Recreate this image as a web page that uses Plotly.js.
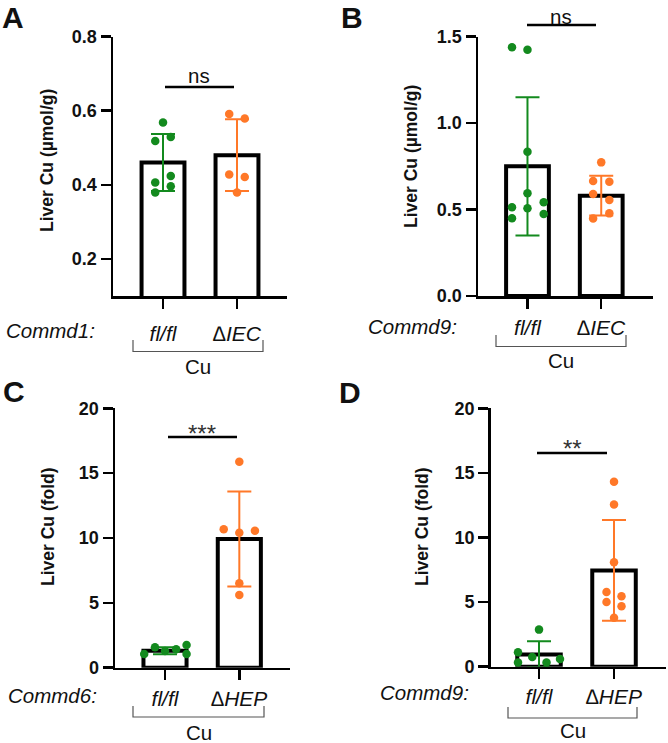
<!DOCTYPE html>
<html>
<head>
<meta charset="utf-8">
<script src="https://cdn.plot.ly/plotly-3.0.1.min.js"></script>
<style>
  body { margin: 0; background: #fff; }
  #graphDiv { width: 668px; height: 743px; }
</style>
</head>
<body>
<div id="graphDiv"></div>
<script>
// Datos (Liver Cu)
let gruposA = ["fl/fl", "\u2206IEC"];
let flA = [0.568, 0.518, 0.529, 0.424, 0.406, 0.396, 0.379];
let koA = [0.591, 0.579, 0.428, 0.421, 0.379];
let mediaA = [0.46, 0.48];
let sdA = [0.077, 0.097];

let gruposB = ["fl/fl", "\u2206IEC"];
let flB = [1.439, 1.425, 0.835, 0.594, 0.513, 0.507, 0.542, 0.450, 0.475];
let koB = [0.773, 0.665, 0.661, 0.590, 0.555, 0.449, 0.478];
let mediaB = [0.75, 0.58];
let sdB = [0.40, 0.115];

let gruposC = ["fl/fl", "\u2206HEP"];
let flC = [1.06, 1.57, 1.29, 1.42, 1.75, 1.06];
let koC = [15.88, 10.67, 10.41, 10.56, 6.51, 5.61];
let mediaC = [1.3, 9.93];
let sdC = [0.27, 3.66];

let gruposD = ["fl/fl", "\u2206HEP"];
let flD = [1.11, 0.33, 0.75, 2.87, 0.33, 0.60];
let koD = [14.32, 12.56, 8.09, 5.78, 5.45, 5.01, 4.67, 3.78];
let mediaD = [0.95, 7.45];
let sdD = [1.02, 3.9];

// desplazamiento horizontal de cada punto (solo para dibujar)
let jitA = [[0, -0.105, 0.105, 0.105, -0.105, 0.105, -0.105], [-0.105, 0.105, -0.105, 0.105, 0]];
let jitB = [[-0.21, 0, 0, 0, -0.21, 0, 0.22, -0.21, 0.22], [0, -0.11, 0.11, -0.11, 0.11, -0.11, 0.11]];
let jitC = [[-0.28, -0.135, 0, 0.15, 0.29, 0.29], [0, -0.21, 0, 0.21, 0, 0]];
let jitD = [[-0.28, -0.28, -0.09, 0, 0.1, 0.28], [0, 0, 0, -0.1, 0.1, -0.1, 0.1, 0]];

const VERDE = "#138a1e";
const NARANJA = "#ff7828";
const FUENTE = "Liberation Sans, Arial, sans-serif";
const W = 668, H = 743;

function px(x) { return x / W; }
function py(y) { return 1 - y / H; }

function panel(n, fl, ko, media, sd, jit) {
    let xa = "x" + (n == 1 ? "" : n);
    let ya = "y" + (n == 1 ? "" : n);
    let trazas = [];
    let colores = [VERDE, NARANJA];
    let puntos = [fl, ko];
    for (let g = 0; g < 2; g++) {
        trazas.push({
            type: "bar", x: [g], y: [media[g]], width: 0.58,
            xaxis: xa, yaxis: ya,
            marker: { color: "white", line: { color: "black", width: 4 } },
            error_y: { type: "data", array: [sd[g]], color: colores[g], thickness: 2, width: 12 },
            hoverinfo: "y", showlegend: false
        });
    }
    for (let g = 0; g < 2; g++) {
        let xs = [];
        for (let i = 0; i < puntos[g].length; i++) {
            xs.push(g + jit[g][i]);
        }
        trazas.push({
            type: "scatter", mode: "markers", x: xs, y: puntos[g],
            xaxis: xa, yaxis: ya,
            marker: { color: colores[g], size: 8.5 },
            cliponaxis: false, showlegend: false
        });
    }
    return trazas;
}

function ejeX(x0, x1, rango, grupos, standoff) {
    return {
        domain: [px(x0), px(x1)], range: rango,
        tickvals: [0, 1], ticktext: grupos,
        ticks: "outside", ticklen: 10, tickwidth: 2.5, tickcolor: "black",
        showline: true, linewidth: 2.5, linecolor: "black",
        showgrid: false, zeroline: false, fixedrange: true,
        ticklabelstandoff: standoff,
        tickfont: { family: FUENTE, size: 21, style: "italic", color: "#111" }
    };
}

function ejeY(y0, y1, rango, dtick, formato, anchor) {
    return {
        domain: [py(y1), py(y0)], range: rango,
        tick0: 0, dtick: dtick, tickformat: formato,
        ticks: "outside", ticklen: 10, tickwidth: 2.5, tickcolor: "black",
        showline: true, linewidth: 2.5, linecolor: "black",
        showgrid: false, zeroline: false, fixedrange: true,
        anchor: anchor,
        tickfont: { family: FUENTE, size: 18, weight: "bold", color: "#111" }
    };
}

function texto(x, y, t, size, extra) {
    let a = {
        xref: "paper", yref: "paper", x: px(x), y: py(y), text: t,
        showarrow: false, xanchor: "center", yanchor: "middle",
        font: { family: FUENTE, size: size, color: "#111" }
    };
    return Object.assign(a, extra || {});
}

function linea(x0, x1, y, ancho) {
    return { type: "line", xref: "paper", yref: "paper",
        x0: px(x0), x1: px(x1), y0: py(y), y1: py(y),
        line: { color: "black", width: ancho } };
}

function corchete(x0, x1, yTop, yBot) {
    let p = "M" + px(x0) + "," + py(yTop) + " L" + px(x0) + "," + py(yBot) +
        " L" + px(x1) + "," + py(yBot) + " L" + px(x1) + "," + py(yTop);
    return { type: "path", xref: "paper", yref: "paper", path: p,
        line: { color: "#555", width: 1.2 } };
}

let data = [].concat(
    panel(1, flA, koA, mediaA, sdA, jitA),
    panel(2, flB, koB, mediaB, sdB, jitB),
    panel(3, flC, koC, mediaC, sdC, jitC),
    panel(4, flD, koD, mediaD, sdD, jitD)
);

let letra = { family: FUENTE, size: 30, weight: "bold", color: "#111" };
let titulo = { family: FUENTE, size: 17.5, weight: "bold", color: "#111" };
let gen = { family: FUENTE, size: 20.5, style: "italic", color: "#111" };

let annotations = [
    texto(13, 0, "A", 30, { font: letra, yanchor: "top", borderpad: 0 }),
    texto(352, 0, "B", 30, { font: letra, yanchor: "top", borderpad: 0 }),
    texto(14, 391, "C", 30, { font: letra }),
    texto(350, 392, "D", 30, { font: letra }),

    texto(47, 161, "Liver Cu (\u00b5mol/g)", 17.5, { textangle: -90, font: titulo }),
    texto(411, 157, "Liver Cu (\u00b5mol/g)", 17.5, { textangle: -90, font: titulo }),
    texto(48, 527, "Liver Cu (fold)", 17.5, { textangle: -90, font: titulo }),
    texto(422, 527, "Liver Cu (fold)", 17.5, { textangle: -90, font: titulo }),

    texto(4, 330, "Commd1:", 20.5, { xanchor: "left", font: gen }),
    texto(366, 327, "Commd9:", 20.5, { xanchor: "left", font: gen }),
    texto(6, 695, "Commd6:", 20.5, { xanchor: "left", font: gen }),
    texto(378, 692, "Commd9:", 20.5, { xanchor: "left", font: gen }),

    texto(198, 366, "Cu", 20.5),
    texto(561, 360, "Cu", 20.5),
    texto(199, 732, "Cu", 20.5),
    texto(573, 730, "Cu", 20.5),

    texto(199, 76, "ns", 20.5),
    texto(561, 16, "ns", 20.5),
    texto(202, 433, "***", 24, { font: { family: FUENTE, size: 24, color: "#333" } }),
    texto(572, 448, "**", 24, { font: { family: FUENTE, size: 24, color: "#333" } })
];

let shapes = [
    linea(165, 234, 87, 2.5),
    linea(527, 596, 25, 2.5),
    linea(168, 237, 437, 2.5),
    linea(537, 607, 453, 2.5),
    corchete(133, 263, 340, 351.5),
    corchete(496, 626, 335, 346.5),
    corchete(133, 264, 706, 717),
    corchete(508, 637, 707, 718)
];

let layout = {
    width: W, height: H,
    margin: { l: 0, r: 0, t: 0, b: 0 },
    paper_bgcolor: "white", plot_bgcolor: "white",
    barmode: "overlay", showlegend: false,
    font: { family: FUENTE, color: "#111" },
    xaxis: ejeX(113, 287, [-0.676, 1.676], gruposA, 7),
    yaxis: ejeY(36.5, 296, [0.1, 0.8], 0.2, ".1f", "x"),
    xaxis2: ejeX(478, 653, [-0.671, 1.702], gruposB, 1),
    yaxis2: ejeY(36.7, 296, [0, 1.5], 0.5, ".1f", "x2"),
    xaxis3: ejeX(115, 290, [-0.673, 1.682], gruposC, 1),
    yaxis3: ejeY(408.3, 667.7, [0, 20], 5, "d", "x3"),
    xaxis4: ejeX(490.7, 665.7, [-0.644, 1.689], gruposD, 0),
    yaxis4: ejeY(408.3, 666.7, [0, 20], 5, "d", "x4"),
    annotations: annotations,
    shapes: shapes
};
layout.xaxis.anchor = "y";
layout.xaxis2.anchor = "y2";
layout.xaxis3.anchor = "y3";
layout.xaxis4.anchor = "y4";

Plotly.newPlot("graphDiv", data, layout, { displayModeBar: false, staticPlot: true });
</script>
</body>
</html>
